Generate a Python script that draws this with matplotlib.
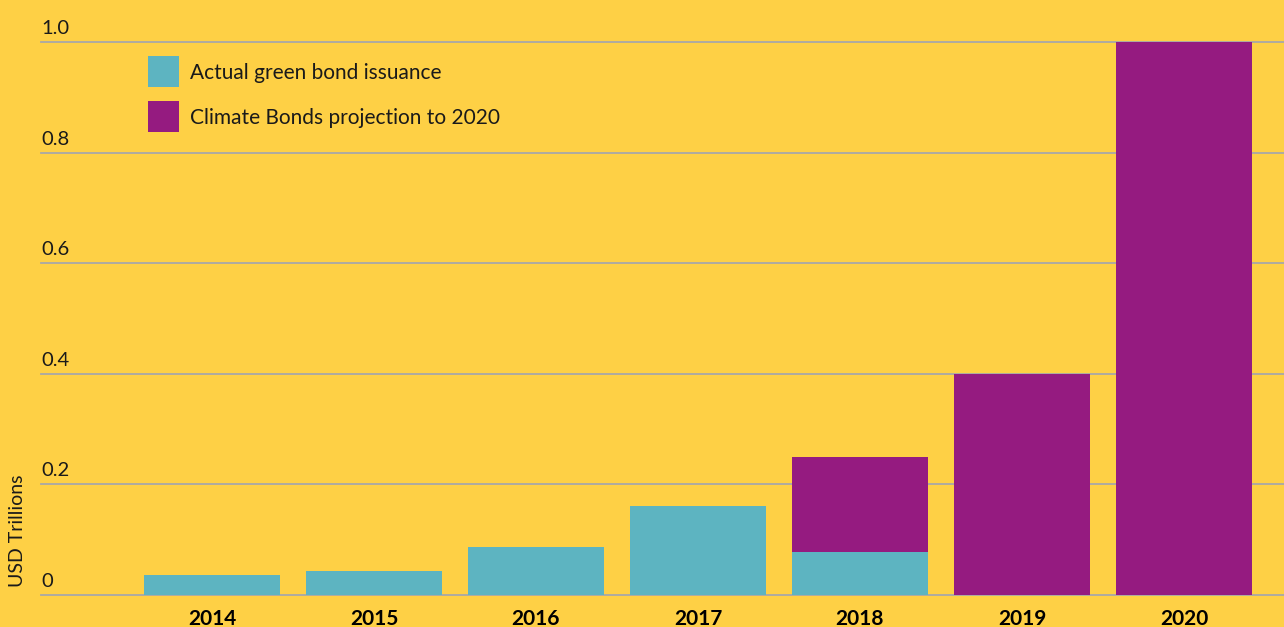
import matplotlib

matplotlib.use("Agg")
import matplotlib.pyplot as plt
from matplotlib.patches import Rectangle

# values (USD trillions)
years = ["2014", "2015", "2016", "2017", "2018", "2019", "2020"]
actual = [0.036, 0.043, 0.087, 0.161, 0.078, 0.0, 0.0]
projection_total = [0.0, 0.0, 0.0, 0.0, 0.25, 0.40, 1.0]
y_ticks = [0, 0.2, 0.4, 0.6, 0.8, 1.0]
y_tick_labels = ["0", "0.2", "0.4", "0.6", "0.8", "1.0"]
legend_labels = ["Actual green bond issuance", "Climate Bonds projection to 2020"]

BG = "#FED045"
TEAL = "#5DB4C1"
PURPLE = "#951B80"
GRID = "#A8A8A8"
TEXT = "#1A1A1A"

plt.rcParams["font.family"] = ["Lato", "DejaVu Sans"]

W, H = 1284, 627
fig = plt.figure(figsize=(W / 100, H / 100), dpi=100, facecolor=BG)
ax = fig.add_axes([41 / W, (H - 595) / H, (W - 41) / W, 553 / H])
ax.set_facecolor(BG)
for s in ax.spines.values():
    s.set_visible(False)

x = list(range(len(years)))
bar_w = 136 / 162
ax.set_xlim((41 - 212) / 162, (1284 - 212) / 162)
ax.set_ylim(0, 1.0)

for yv in y_ticks:
    ax.axhline(yv, color=GRID, lw=1.3, zorder=1, clip_on=False)

ax.bar(x, actual, width=bar_w, color=TEAL, zorder=2, linewidth=0)
proj_x = [i for i in x if projection_total[i] > 0]
ax.bar(proj_x,
       [projection_total[i] - actual[i] for i in proj_x],
       bottom=[actual[i] for i in proj_x],
       width=bar_w, color=PURPLE, zorder=2, linewidth=0)

ax.set_xticks([])
ax.set_yticks([])

# y tick labels sit above their gridlines, at the left edge
ytrans = ax.get_yaxis_transform()
for yv, lab in zip(y_ticks, y_tick_labels):
    ax.text(0, yv + 0.009, lab, transform=ytrans, ha="left", va="bottom",
            fontsize=14.5, color=TEXT, clip_on=False)

# year labels below the axis, close to the bottom edge like the source
xtrans = ax.get_xaxis_transform()
for i, yr in zip(x, years):
    ax.text(i, -0.026, yr, transform=xtrans, ha="center", va="top",
            fontsize=15, fontweight="bold", color="black", clip_on=False)

fig.text(18 / W, (H - 587) / H, "USD Trillions", rotation=90,
         ha="center", va="bottom", fontsize=14, color=TEXT)

# legend drawn by hand in pixel positions
for k, (lab, col) in enumerate(zip(legend_labels, [TEAL, PURPLE])):
    top = 56 + 45 * k
    fig.patches.append(Rectangle((148 / W, (H - top - 31) / H), 31 / W, 31 / H,
                                 transform=fig.transFigure, color=col, lw=0))
    fig.text(190 / W, (H - top - 17) / H, lab, ha="left", va="center",
             fontsize=15, color=TEXT)

fig.savefig("out.png", dpi=100, facecolor=BG)
